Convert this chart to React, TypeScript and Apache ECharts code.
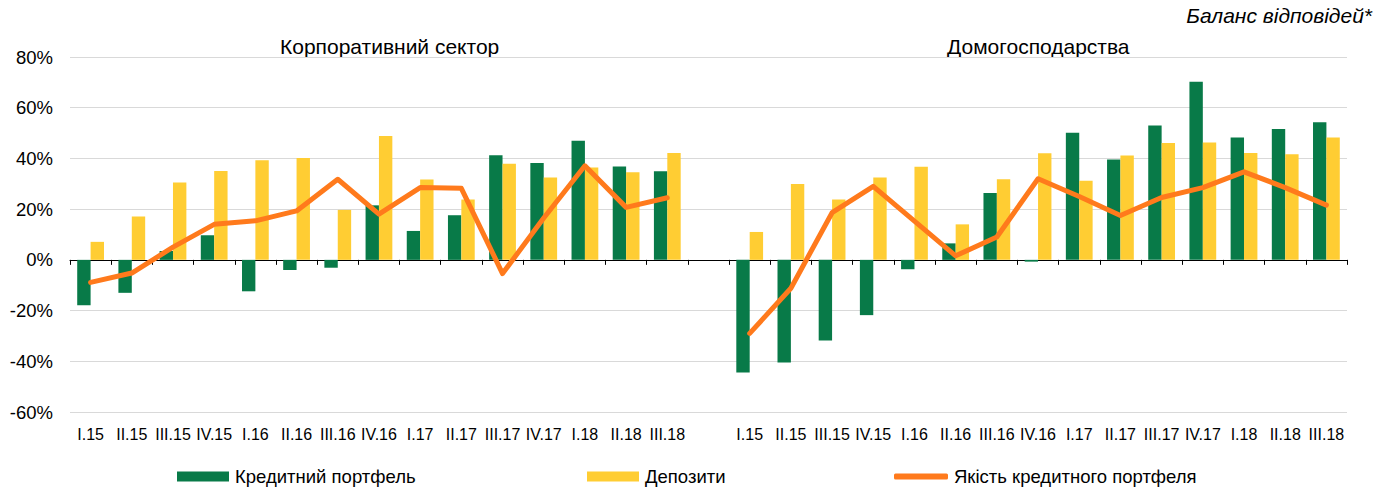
import React, { useEffect, useRef } from "react";
import * as echarts from "echarts";

const quarters = ["I.15", "II.15", "III.15", "IV.15", "I.16", "II.16", "III.16", "IV.16", "I.17", "II.17", "III.17", "IV.17", "I.18", "II.18", "III.18"];
const xLabels = [...quarters, "", ...quarters];

const corpCredit = [-17.9, -13, 3.5, 9.7, -12.4, -4, -3.1, 21.5, 11.4, 17.6, 41.3, 38.2, 47, 36.8, 34.9];
const corpDeposits = [7.1, 17.1, 30.5, 35, 39.3, 40.2, 19.7, 48.8, 31.7, 23.8, 37.9, 32.5, 36.4, 34.5, 42.1];
const corpQuality = [-8.9, -5.2, 5, 14, 15.4, 19.3, 31.8, 18, 28.5, 28.2, -5.4, 16.5, 37.1, 20.7, 24.5];

const hhCredit = [-44.4, -40.5, -31.8, -21.8, -3.7, 6.5, 26.4, -0.7, 50.1, 39.6, 53, 70.2, 48.3, 51.6, 54.3];
const hhDeposits = [11, 29.9, 23.8, 32.5, 36.7, 14, 31.8, 42, 31.2, 41.2, 46.1, 46.3, 42.1, 41.6, 48.3];
const hhQuality = [-29, -11.2, 18.6, 29, 15.3, 1.6, 9, 32, 25, 17.5, 24.6, 28.5, 34.7, 28.5, 21.6];

const yTicks = [-60, -40, -20, 0, 20, 40, 60, 80];

const seriesNames = ["Кредитний портфель", "Депозити", "Якість кредитного портфеля"];
const titles = ["Корпоративний сектор", "Домогосподарства"];
const unitNote = "Баланс відповідей*";

const GREEN = "#087A48";
const YELLOW = "#FFCD33";
const ORANGE = "#FF7A1C";
const FONT = "Liberation Sans, Arial, sans-serif";

export default function App() {
  const ref = useRef<HTMLDivElement>(null);
  useEffect(() => {
    document.body.style.margin = "0";
    if (!ref.current) return;
    const chart = echarts.init(ref.current, null, { renderer: "svg" });
    const join = (a: number[], b: number[]) => [...a, null, ...b];
    const legendText = { fontSize: 18.5, color: "#000", fontFamily: FONT, padding: [0, 0, 0, 1] };
    chart.setOption({
      animation: false,
      textStyle: { fontFamily: FONT },
      grid: { left: 70, right: 37, top: 57, bottom: 78 },
      xAxis: [
        {
          type: "category",
          data: xLabels,
          axisLine: { onZero: true, lineStyle: { color: "#000", width: 1 } },
          axisTick: { show: true, length: 5, inside: false, lineStyle: { color: "#000" } },
          axisLabel: { show: false },
          splitLine: { show: false },
        },
        {
          type: "category",
          data: xLabels,
          position: "bottom",
          axisLine: { show: false, onZero: false },
          axisTick: { show: false },
          axisLabel: { show: true, interval: 0, color: "#000", fontSize: 16, fontFamily: FONT, margin: 14 },
        },
      ],
      yAxis: {
        type: "value",
        min: yTicks[0],
        max: yTicks[yTicks.length - 1],
        interval: 20,
        axisLine: { show: false },
        axisTick: { show: false },
        axisLabel: { color: "#000", fontSize: 18.5, fontFamily: FONT, margin: 17, formatter: (v: number) => v + "%" },
        splitLine: { lineStyle: { color: "#D9D9D9", width: 1 } },
      },
      legend: [
        { data: [seriesNames[0]], left: 177, top: 467, padding: 0, itemWidth: 52, itemHeight: 10, icon: "rect", textStyle: legendText, itemGap: 0 },
        { data: [seriesNames[1]], left: 587, top: 467, padding: 0, itemWidth: 52, itemHeight: 10, icon: "rect", textStyle: legendText, itemGap: 0 },
        { data: [seriesNames[2]], left: 894, top: 467, padding: 0, itemWidth: 54, itemHeight: 6, icon: "roundRect", textStyle: legendText, itemGap: 0 },
      ],
      graphic: [
        { type: "text", left: 280, top: 36, style: { text: titles[0], fontSize: 21, fill: "#000", fontFamily: FONT } },
        { type: "text", left: 947, top: 36, style: { text: titles[1], fontSize: 21, fill: "#000", fontFamily: FONT } },
        { type: "text", right: 12, top: 5, style: { text: unitNote, fontSize: 21, fontStyle: "italic", fill: "#000", fontFamily: FONT } },
      ],
      series: [
        {
          name: seriesNames[0], type: "bar", xAxisIndex: 0, data: join(corpCredit, hhCredit),
          itemStyle: { color: GREEN }, barGap: "0%", barCategoryGap: "35%",
        },
        {
          name: seriesNames[1], type: "bar", xAxisIndex: 0, data: join(corpDeposits, hhDeposits),
          itemStyle: { color: YELLOW }, barGap: "0%", barCategoryGap: "35%",
        },
        {
          name: seriesNames[2], type: "line", xAxisIndex: 0, data: join(corpQuality, hhQuality),
          symbol: "none", connectNulls: false, itemStyle: { color: ORANGE },
          lineStyle: { color: ORANGE, width: 5, cap: "round", join: "round" },
        },
      ],
    });
    return () => chart.dispose();
  }, []);
  return <div ref={ref} style={{ width: 1384, height: 490 }} />;
}
